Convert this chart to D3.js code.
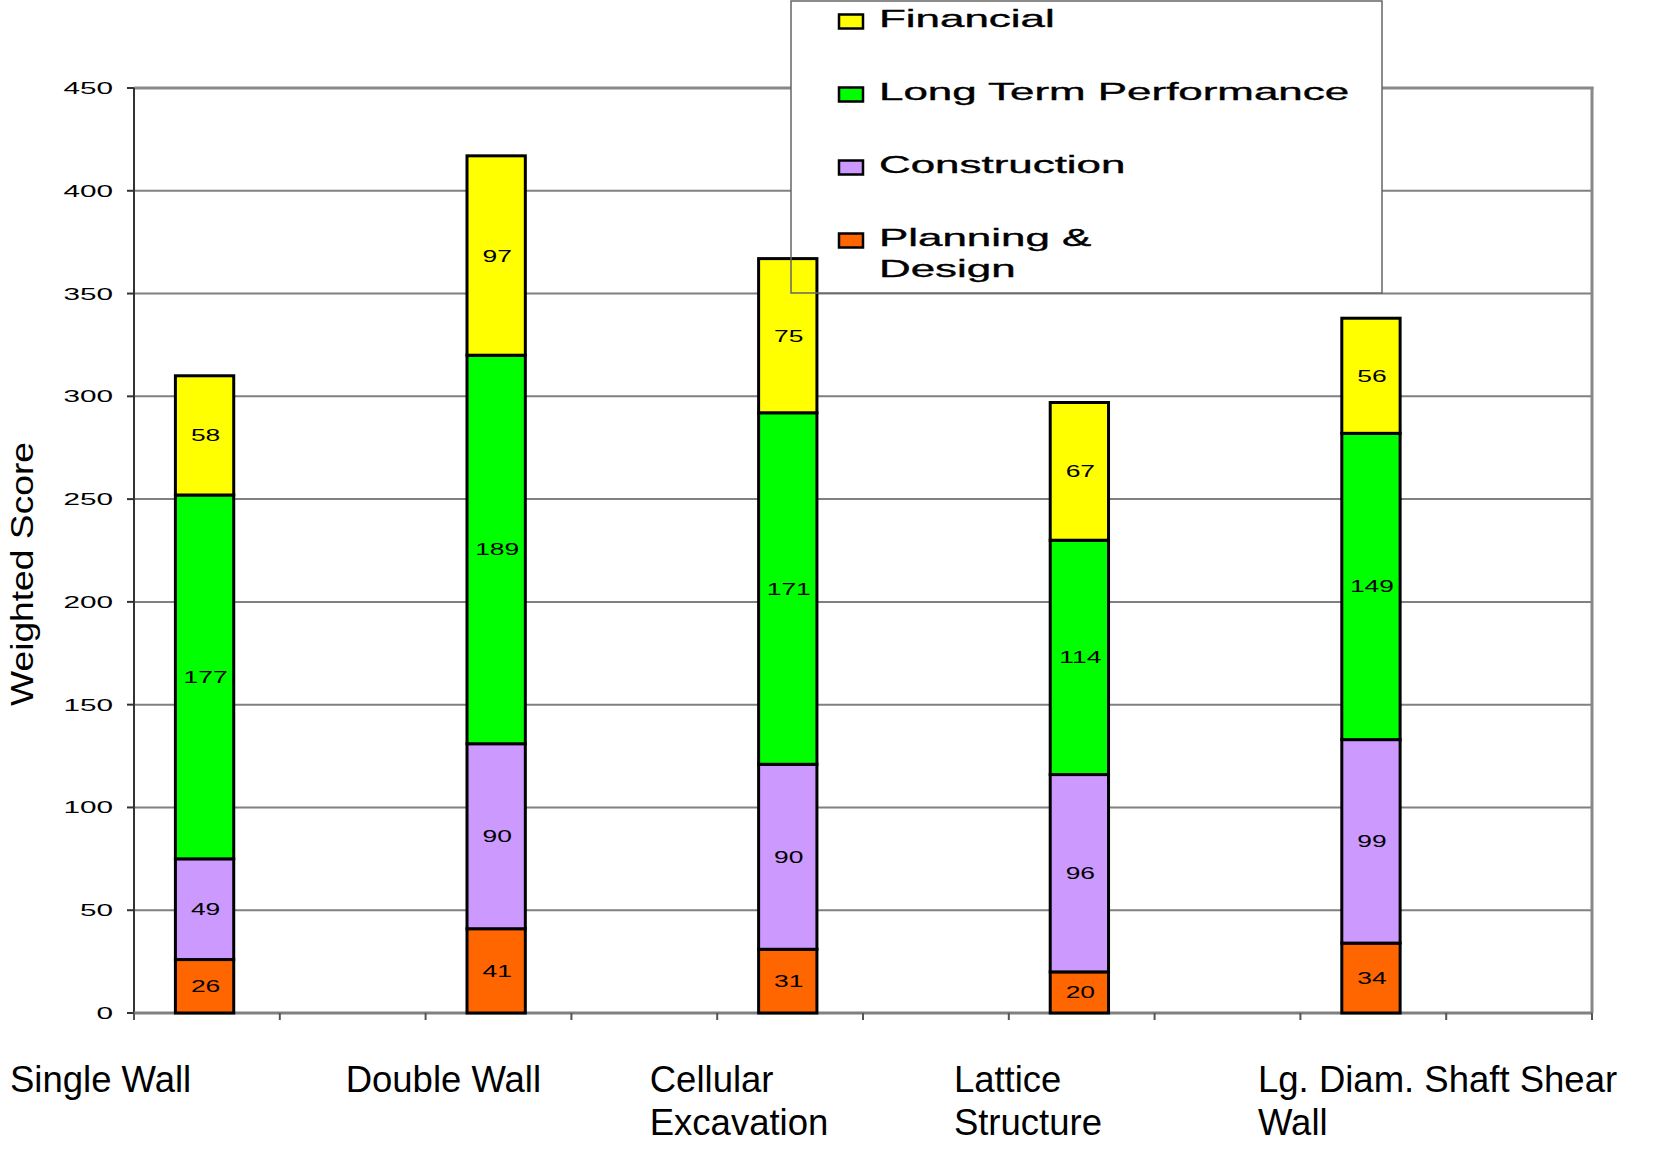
<!DOCTYPE html>
<html>
<head>
<meta charset="utf-8">
<script src="https://cdn.jsdelivr.net/npm/d3@7"></script>
<style>
  html, body { margin: 0; padding: 0; background: #fff; }
  svg { display: block; }
  text { font-family: "Liberation Sans", Arial, Helvetica, sans-serif; fill: #000; }
</style>
</head>
<body>
<svg id="chart" width="1667" height="1154"></svg>
<script>
// Weighted scores of each wall alternative, stacked by criterion group
const categories = ["Single Wall", "Double Wall", "Cellular Excavation", "Lattice Structure", "Lg. Diam. Shaft Shear Wall"];
const categoryLines = [["Single Wall"], ["Double Wall"], ["Cellular", "Excavation"], ["Lattice", "Structure"], ["Lg. Diam. Shaft Shear", "Wall"]];

const planningDesign = [26, 41, 31, 20, 34];
const construction   = [49, 90, 90, 96, 99];
const longTerm       = [177, 189, 171, 114, 149];
const financial      = [58, 97, 75, 67, 56];

const seriesNames  = ["Planning & Design", "Construction", "Long Term Performance", "Financial"];
const seriesColors = ["#FF6600", "#CC99FF", "#00FF00", "#FFFF00"];
const legendOrder  = ["Financial", "Long Term Performance", "Construction", "Planning & Design"];
const legendLines  = { "Financial": ["Financial"], "Long Term Performance": ["Long Term Performance"], "Construction": ["Construction"], "Planning & Design": ["Planning &", "Design"] };

const yTicks = [0, 50, 100, 150, 200, 250, 300, 350, 400, 450];
const yTitle = "Weighted Score";

const svg = d3.select("#chart");
const plot = { left: 134, right: 1592, top: 88, bottom: 1013 };

const x = d3.scaleBand().domain(categories).range([plot.left, plot.right]).paddingInner(0).paddingOuter(0);
const y = d3.scaleLinear().domain([0, 450]).range([plot.bottom, plot.top]);

// wide, stretched Arial text used for the numeric labels and the legend
function wideText(g, str, tx, ty, size, sx, anchor) {
  return g.append("text")
    .attr("transform", `translate(${tx},${ty}) scale(${sx},1)`)
    .attr("text-anchor", anchor || "start")
    .attr("font-size", size)
    .text(str);
}

// gridlines
svg.append("g").selectAll("line").data(yTicks.filter(t => t > 0)).join("line")
  .attr("x1", plot.left).attr("x2", plot.right)
  .attr("y1", d => y(d)).attr("y2", d => y(d))
  .attr("stroke", "#808080").attr("stroke-width", 2);

// right and top border of the plot area
svg.append("line")
  .attr("x1", plot.right).attr("x2", plot.right)
  .attr("y1", plot.top - 1).attr("y2", plot.bottom)
  .attr("stroke", "#888").attr("stroke-width", 3);
svg.append("line")
  .attr("x1", plot.left).attr("x2", plot.right + 1.5)
  .attr("y1", plot.top).attr("y2", plot.top)
  .attr("stroke", "#888").attr("stroke-width", 3);

// legend background (hides the gridlines behind it)
const legend = { x: 791, y: 1, w: 591, h: 292 };
svg.append("rect")
  .attr("x", legend.x).attr("y", legend.y).attr("width", legend.w).attr("height", legend.h)
  .attr("fill", "#fff");

// y axis
const yAxis = svg.append("g");
yAxis.append("line")
  .attr("x1", plot.left).attr("x2", plot.left)
  .attr("y1", plot.top).attr("y2", plot.bottom + 7)
  .attr("stroke", "#333").attr("stroke-width", 2);
yAxis.selectAll("line.tick").data(yTicks).join("line").attr("class", "tick")
  .attr("x1", plot.left - 7).attr("x2", plot.left)
  .attr("y1", d => y(d)).attr("y2", d => y(d))
  .attr("stroke", "#333").attr("stroke-width", 2);
yTicks.forEach(t => wideText(yAxis, String(t), 113, y(t) + 6, 16.5, 1.8, "end"));

// x axis with a tick at each category edge and midpoint
const xAxis = svg.append("g");
xAxis.append("line")
  .attr("x1", plot.left).attr("x2", plot.right)
  .attr("y1", plot.bottom).attr("y2", plot.bottom)
  .attr("stroke", "#808080").attr("stroke-width", 3);
const xTickPos = categories.flatMap(c => [x(c), x(c) + x.bandwidth() / 2]).concat([plot.right]);
xAxis.selectAll("line.tick").data(xTickPos).join("line").attr("class", "tick")
  .attr("x1", d => d).attr("x2", d => d)
  .attr("y1", plot.bottom).attr("y2", plot.bottom + 7)
  .attr("stroke", "#555").attr("stroke-width", 2);

// category labels, left aligned, wrapped onto two lines where needed
const labelX = d3.scalePoint().domain(categories).range([41.5, 1258]);
categoryLines.forEach((lines, i) => {
  const lx = i === 0 ? 10 : labelX(categories[i]);
  const t = xAxis.append("text").attr("x", lx).attr("y", 1092).attr("font-size", 36.5);
  lines.forEach((ln, k) => t.append("tspan").attr("x", lx).attr("dy", k === 0 ? 0 : 43).text(ln));
});

// y axis title
svg.append("text")
  .attr("transform", `translate(33,574) rotate(-90) scale(1.2,1)`)
  .attr("text-anchor", "middle")
  .attr("font-size", 31)
  .text(yTitle);

// stacked bars
const rows = categories.map((c, i) => ({
  category: c,
  "Planning & Design": planningDesign[i],
  "Construction": construction[i],
  "Long Term Performance": longTerm[i],
  "Financial": financial[i]
}));
const stack = d3.stack().keys(seriesNames)(rows);
const barW = x.bandwidth() * 0.2;
const barCx = c => x(c) + x.bandwidth() * 0.242;

const bars = svg.append("g");
stack.forEach((layer, si) => {
  bars.append("g").selectAll("rect").data(layer).join("rect")
    .attr("x", d => barCx(d.data.category) - barW / 2)
    .attr("width", barW)
    .attr("y", d => y(d[1]))
    .attr("height", d => y(d[0]) - y(d[1]))
    .attr("fill", seriesColors[si])
    .attr("stroke", "#000").attr("stroke-width", 3);
});

// value labels in the middle of each segment
const labels = svg.append("g");
stack.forEach(layer => {
  layer.forEach(d => {
    const v = d[1] - d[0];
    wideText(labels, String(v), barCx(d.data.category) + 1, y((d[0] + d[1]) / 2) + 6, 16, 1.65, "middle");
  });
});

// legend entries and border
const lg = svg.append("g");
legendOrder.forEach((name, i) => {
  const base = 27 + i * 73;
  const col = seriesColors[seriesNames.indexOf(name)];
  lg.append("rect")
    .attr("x", 839).attr("y", base - 12.5).attr("width", 24).attr("height", 14)
    .attr("fill", col).attr("stroke", "#000").attr("stroke-width", 2.5);
  legendLines[name].forEach((ln, k) =>
    wideText(lg, ln, 879, base + k * 31, 24, 1.83, "start")
      .attr("stroke", "#000").attr("stroke-width", 0.35));
});
lg.append("rect")
  .attr("x", legend.x).attr("y", legend.y).attr("width", legend.w).attr("height", legend.h)
  .attr("fill", "none").attr("stroke", "#666").attr("stroke-width", 1.5);
</script>
</body>
</html>
